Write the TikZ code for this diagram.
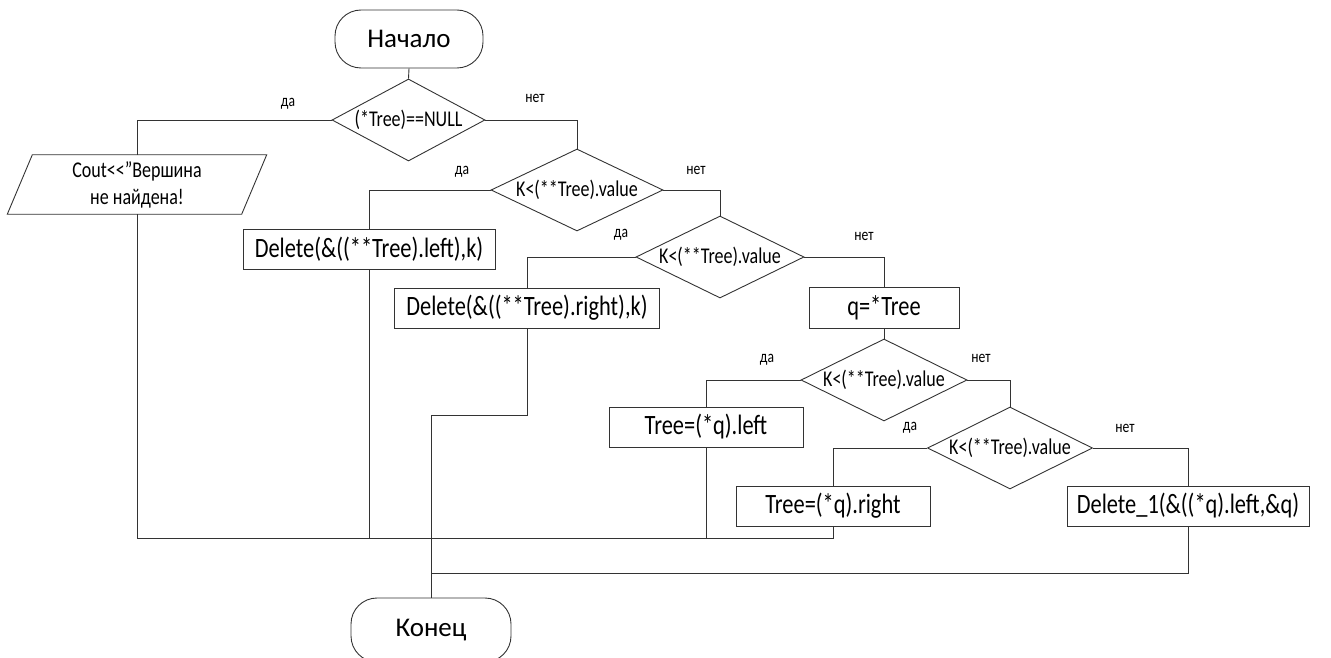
\documentclass[tikz,border=0pt]{standalone}
\usepackage{fontspec}
\setmainfont{Carlito}
\newfontfamily\cnd{Carlito}[FakeStretch=0.8]
\usetikzlibrary{shapes.geometric}
\begin{document}
\begin{tikzpicture}[x=1pt,y=-1pt,
  ln/.style={draw=black!80, line width=0.9pt},
  term/.style={ln, rounded corners=26pt, minimum width=#1, inner sep=0pt, font=\fontsize{27}{30}\selectfont},
  dec/.style={ln, diamond, minimum width=#1, minimum height=82pt, inner sep=0pt},
  dtext/.style={font=\cnd\fontsize{22.5}{25}\selectfont, inner sep=0pt},
  proc/.style={ln, minimum width=#1, minimum height=40pt, inner sep=0pt, font=\cnd\fontsize{28}{30}\selectfont},
  lab/.style={font=\cnd\fontsize{17}{19}\selectfont, inner sep=0pt}
]
\useasboundingbox (0,0) rectangle (1331,658);
% terminals
\node[term=148, minimum height=58pt] (start) at (409,39) {Начало};
\node[term=160, minimum height=64pt] (end) at (431,630) {Конец};
% decisions
\node[dec=153] (d1) at (408.5,120) {};
\node[dtext] (t1) at (d1.center) {(*Tree)==NULL};
\node[dec=172] (d2) at (577,190) {};
\node[dtext] (t2) at (d2.center) {K<(**Tree).value};
\node[dec=168] (d3) at (720,257) {};
\node[dtext] (t3) at (d3.center) {K<(**Tree).value};
\node[dec=166] (d4) at (884,380) {};
\node[dtext] (t4) at (d4.center) {K<(**Tree).value};
\node[dec=165] (d5) at (1010,448) {};
\node[dtext] (t5) at (d5.center) {K<(**Tree).value};
% output
\node[minimum width=234pt, minimum height=59pt, inner sep=0pt, align=center, font=\cnd\fontsize{22.5}{27}\selectfont] (out) at (137,184.5) {Cout<\kern0pt<”Вершина\\не найдена!};
\draw[ln] ([xshift=12.5pt]out.north west) -- ([xshift=12.5pt]out.north east) -- ([xshift=-12.5pt]out.south east) -- ([xshift=-12.5pt]out.south west) -- cycle;
% processes
\node[proc=252] (DL) at (369,249) {Delete(\&((**Tree).left),k)};
\node[proc=265] (DR) at (527,308) {Delete(\&((**Tree).right),k)};
\node[proc=150, minimum height=41pt] (q) at (884,308) {q=*Tree};
\node[proc=194] (TL) at (706,427) {Tree=(*q).left};
\node[proc=194] (TR) at (833,506) {Tree=(*q).right};
\node[proc=242] (D1) at (1188,506) {Delete\_1(\&((*q).left,\&q)};
% labels
\node[lab] (l1a) at (288,104) {да};
\node[lab] (l1b) at (535,98) {нет};
\node[lab] (l2a) at (462,172) {да};
\node[lab] (l2b) at (696,170) {нет};
\node[lab] (l3a) at (621,235) {да};
\node[lab] (l3b) at (864,236) {нет};
\node[lab] (l4a) at (767,360) {да};
\node[lab] (l4b) at (981,358) {нет};
\node[lab] (l5a) at (910,428) {да};
\node[lab] (l5b) at (1125,428) {нет};
% junction coordinates
\coordinate (mj) at (431,538);
\coordinate (mr) at (833,538);
\coordinate (st) at (431,415);
\coordinate (lj) at (431,573);
% connectors
\draw[ln] (start.south) -- (d1.north);
\draw[ln] (d1.west) -| (out.north);
\draw[ln] (d1.east) -| (d2.north);
\draw[ln] (d2.west) -| (DL.north);
\draw[ln] (d2.east) -| (d3.north);
\draw[ln] (d3.west) -| (DR.north);
\draw[ln] (d3.east) -| (q.north);
\draw[ln] (q.south) -- (d4.north);
\draw[ln] (d4.west) -| (TL.north);
\draw[ln] (d4.east) -| (d5.north);
\draw[ln] (d5.west) -| (TR.north);
\draw[ln] (d5.east) -| (D1.north);
\draw[ln] (out.south) |- (mr) -- (TR.south);
\draw[ln] (DL.south) -- (DL.south |- mj);
\draw[ln] (TL.south) -- (TL.south |- mj);
\draw[ln] (DR.south) |- (st) -- (end.north);
\draw[ln] (D1.south) |- (lj);
\end{tikzpicture}
\end{document}
